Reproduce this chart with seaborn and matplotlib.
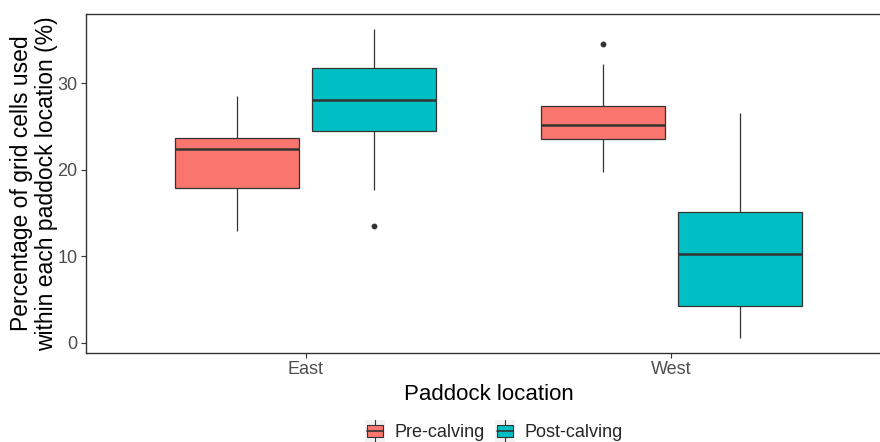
import matplotlib
matplotlib.use("Agg")
import matplotlib.pyplot as plt
import seaborn as sns
import pandas as pd
from matplotlib.patches import Rectangle
from matplotlib.lines import Line2D
from matplotlib.legend_handler import HandlerBase

# ---- data ----
locations = ["East", "West"]
periods = ["Pre-calving", "Post-calving"]
east_pre = [12.9, 15.5, 17.9, 20.5, 22.4, 23.0, 23.6, 26.0, 28.5]
east_post = [13.5, 17.7, 24.5, 26.0, 28.1, 30.0, 31.7, 33.5, 36.2]
west_pre = [19.7, 21.5, 23.5, 24.3, 25.1, 26.2, 27.4, 32.2, 34.5]
west_post = [0.6, 2.5, 4.3, 7.5, 10.2, 12.5, 15.1, 20.0, 26.6]
colors = ["#F8766D", "#00BFC4"]
xlabel = "Paddock location"
ylabel = "Percentage of grid cells used\nwithin each paddock location (%)"

rows = []
for loc, per, vals in [("East", "Pre-calving", east_pre), ("East", "Post-calving", east_post),
                       ("West", "Pre-calving", west_pre), ("West", "Post-calving", west_post)]:
    for v in vals:
        rows.append({"loc": loc, "period": per, "value": v})
df = pd.DataFrame(rows)

sns.set_theme(style="white")
plt.rcParams["font.family"] = ["Liberation Sans", "DejaVu Sans"]

W, H = 880, 442
fig = plt.figure(figsize=(W / 100, H / 100), dpi=100)
ax = fig.add_axes([86 / W, (H - 353) / H, 805 / W, 339 / H])

edge = "#333333"
sns.boxplot(data=df, x="loc", y="value", hue="period", order=locations, hue_order=periods,
            palette=colors, width=0.75, gap=0.1, linecolor=edge, linewidth=0.9,
            saturation=1, ax=ax, legend=False,
            medianprops=dict(linewidth=1.8, color=edge),
            capprops=dict(linewidth=0),
            flierprops=dict(marker="o", markersize=3.2, markerfacecolor=edge,
                            markeredgecolor=edge))

ax.set_xlim(-0.6, 1.6)
ax.set_ylim(-1.18, 37.98)
ax.set_yticks([0, 10, 20, 30])
ax.tick_params(axis="both", which="both", length=3.5, width=0.8, color=edge,
               labelsize=13, labelcolor="#4D4D4D", pad=2.5, left=True, bottom=True)
for s in ax.spines.values():
    s.set_color(edge)
    s.set_linewidth(1.0)
    s.set_visible(True)
ax.set_xlabel(xlabel, fontsize=16, color="black", labelpad=4)
ax.set_ylabel(ylabel, fontsize=16.5, color="black", linespacing=1.1)
ax.yaxis.set_label_coords(-0.035, 0.5)
ax.grid(False)


class BoxHandler(HandlerBase):
    def create_artists(self, legend, orig_handle, xdescent, ydescent, width, height, fontsize, trans):
        c = orig_handle.get_facecolor()
        bg = Rectangle((-xdescent, -ydescent - 2), width, height + 4, facecolor="#F2F2F2",
                       edgecolor="none", transform=trans)
        vl = Line2D([width / 2 - xdescent] * 2, [-ydescent - 2, height - ydescent + 2],
                    color=edge, lw=0.8, transform=trans)
        bw = width * 0.8
        box = Rectangle((width / 2 - bw / 2 - xdescent, -ydescent + height * 0.15), bw, height * 0.7,
                        facecolor=c, edgecolor=edge, lw=0.8, transform=trans)
        md = Line2D([width / 2 - bw / 2 - xdescent, width / 2 + bw / 2 - xdescent],
                    [height / 2 - ydescent] * 2, color=edge, lw=1.2, transform=trans)
        return [bg, vl, box, md]


handles = [Rectangle((0, 0), 1, 1, facecolor=c) for c in colors]
fig.legend(handles, periods, handler_map={Rectangle: BoxHandler()}, loc="center",
           bbox_to_anchor=(494 / W, 1 - 432 / H), ncol=2, frameon=False, fontsize=13,
           handlelength=1.1, handleheight=1.0, handletextpad=0.55, columnspacing=0.55)

fig.savefig("out.png", dpi=100)
